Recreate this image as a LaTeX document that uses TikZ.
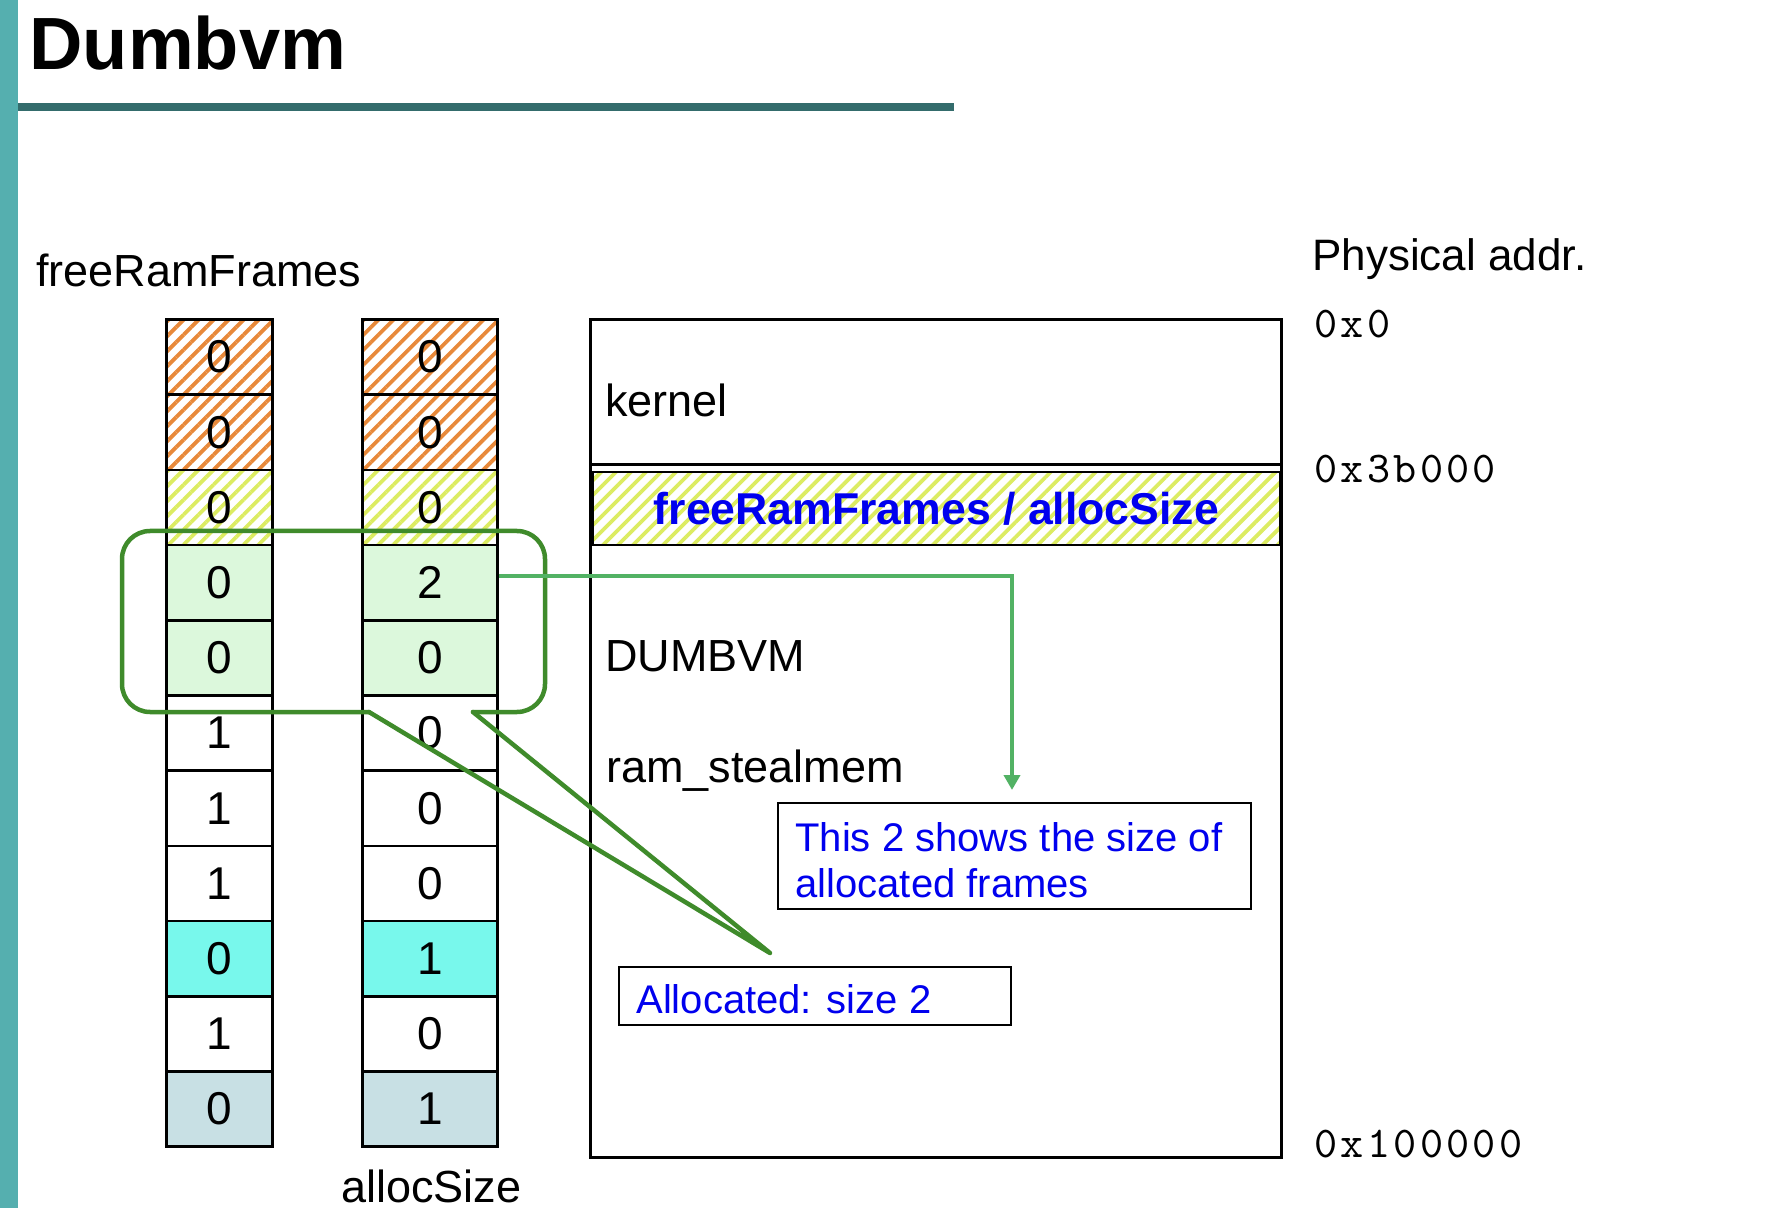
\documentclass[tikz,border=0pt]{standalone}
\usepackage{fontspec}
\setmainfont{Liberation Sans}
\newfontfamily\addrfont{lmmono10-regular.otf}[LetterSpace=7.5]
\usetikzlibrary{arrows.meta,patterns.meta}

\definecolor{barteal}{HTML}{55AFAF}
\definecolor{ruleteal}{HTML}{346C6C}
\definecolor{stripeorange}{HTML}{E8893A}
\definecolor{stripeyellow}{HTML}{DCEC62}
\definecolor{cellgreen}{HTML}{DCF8DC}
\definecolor{cellcyan}{HTML}{78F8EC}
\definecolor{cellgray}{HTML}{C8E0E4}
\definecolor{calloutgreen}{HTML}{3F8B2B}
\definecolor{arrowgreen}{HTML}{52B264}
\definecolor{noteblue}{HTML}{0000EE}

\tikzset{
  lbl/.style={inner sep=0, font=\fontsize{22.5}{26}\selectfont},
  addr/.style={inner sep=0, font=\addrfont\fontsize{22}{26}\selectfont},
  notetext/.style={inner sep=0, text=noteblue, font=\fontsize{20}{23}\selectfont},
  notebox/.style={draw=black, line width=1pt, inner sep=0, anchor=north west},
  cell/.style={draw=black, line width=1.25pt, minimum height=37.6pt, inner sep=0,
    font=\fontsize{23}{26}\selectfont},
  lcol/.style={cell, minimum width=53pt},
  rcol/.style={cell, minimum width=67.7pt},
  hatchO/.style={pattern={Lines[angle=45,distance=5.3pt,line width=1.9pt]},
    pattern color=stripeorange},
  hatchY/.style={pattern={Lines[angle=45,distance=5.3pt,line width=1.9pt]},
    pattern color=stripeyellow},
  fillG/.style={fill=cellgreen},
  fillC/.style={fill=cellcyan},
  fillB/.style={fill=cellgray},
  cellwhite/.style={fill=white},
  callout/.style={draw=calloutgreen, line width=2.25pt, line join=round, line cap=round},
  pointer/.style={draw=arrowgreen, line width=2.3pt,
    -{Triangle[length=7.5pt,width=8pt]}},
}

\begin{document}
\begin{tikzpicture}[x=0.5pt,y=-0.5pt]
  % page and slide decoration
  \fill[white] (0,0) rectangle (1774,1208);
  \fill[barteal] (0,0) rectangle (17.5,1208);
  \fill[ruleteal] (17.5,103) rectangle (954,111.5);
  \node[anchor=base west, inner sep=0, font=\fontsize{37}{41}\selectfont\bfseries]
    (title) at (29,70) {Dumbvm};

  % the two frame tables
  \node[lbl, anchor=base west] (frflabel) at (36,287) {freeRamFrames};
  \foreach \i/\a/\b/\sty in {1/0/0/hatchO, 2/0/0/hatchO, 3/0/0/hatchY,
      4/0/2/fillG, 5/0/0/fillG, 6/1/0/cellwhite, 7/1/0/cellwhite,
      8/1/0/cellwhite, 9/0/1/fillC, 10/1/0/cellwhite, 11/0/1/fillB} {
    \node[lcol, \sty] (l\i) at (219.7, {319.5+75.2*(\i-0.5)}) {\a};
    \node[rcol, \sty] (r\i) at (430, {319.5+75.2*(\i-0.5)}) {\b};
  }
  \node[lbl, anchor=base] (aslabel) at (431.5,1202) {allocSize};

  % physical memory layout
  \node[draw=black, line width=1.5pt, inner sep=0, anchor=north west,
    minimum width=345.5pt, minimum height=419pt] (mem) at (589,318) {};
  \draw[line width=1.4pt] (589,464.5) -- (1280,464.5);
  \node[draw=black, line width=1pt, hatchY, inner sep=0, anchor=north west,
    minimum width=343.5pt, minimum height=36.5pt,
    text=noteblue, font=\fontsize{22.3}{26}\selectfont\bfseries]
    (tables) at (592,471) {freeRamFrames / allocSize};
  \node[lbl, anchor=base west] (kernel) at (605,417) {kernel};
  \node[lbl, anchor=base west] (dumbvm) at (605,672) {DUMBVM};
  \node[lbl, anchor=base west] (steal) at (606,782) {ram\_stealmem};

  % address column
  \node[lbl, anchor=base west, font=\fontsize{22}{26}\selectfont]
    (physaddr) at (1312,271) {Physical addr.};
  \node[addr, anchor=base west] (a0) at (1314,338) {0x0};
  \node[addr, anchor=base west] (a1) at (1314,483) {0x3b000};
  \node[addr, anchor=base west] (a2) at (1314,1157) {0x100000};

  % annotation boxes
  \node[notebox, minimum width=236.5pt, minimum height=53pt] (sizenote) at (777,802) {};
  \node[notetext, anchor=base west] (sizenote1) at (795,851) {This 2 shows the size of};
  \node[notetext, anchor=base west] (sizenote2) at (795,897) {allocated frames};
  \node[notebox, minimum width=195.75pt, minimum height=29pt] (allocnote) at (618,966) {};
  \node[notetext, anchor=base west] (allocnote1) at (636,1013) {Allocated: size 2};

  % speech-bubble callout around the allocated pair
  \coordinate (tip) at (770,953);
  \draw[callout] (369,712) -- (tip) -- (473,712);
  \draw[callout, rounded corners=14pt]
    (369,712) -- (122,712) -- (122,531) -- (545,531) -- (545,712) -- (473,712);

  % pointer from the size entry to its explanation
  \coordinate (sizeptr) at (1012,790);
  \draw[pointer] ([yshift=3.3pt]r4.east) -| (sizeptr);
\end{tikzpicture}
\end{document}
